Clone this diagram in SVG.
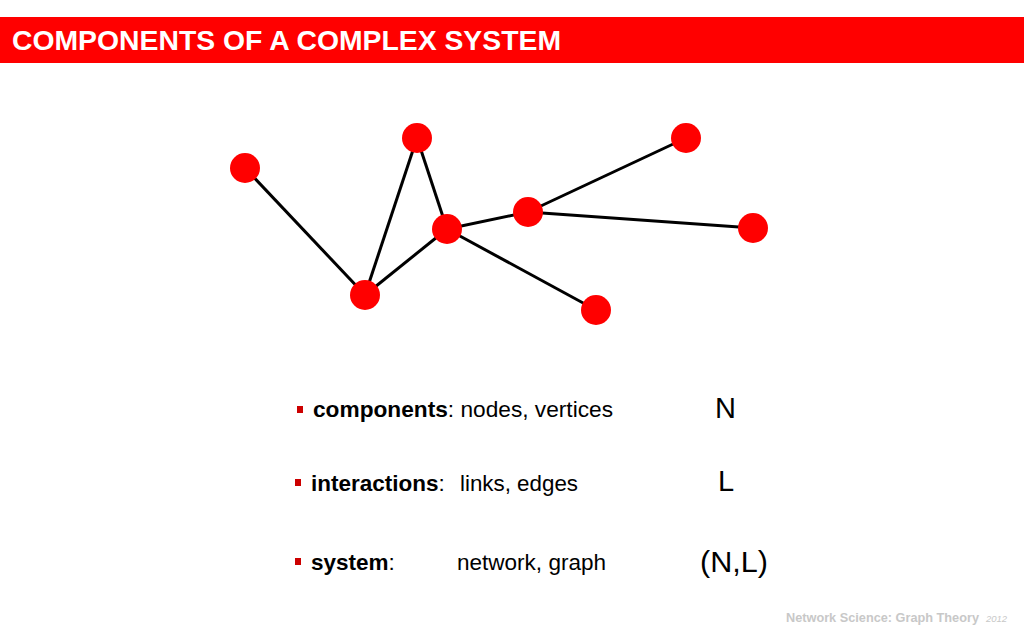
<svg xmlns="http://www.w3.org/2000/svg" width="1024" height="640" viewBox="0 0 1024 640">
<style>
.edge{stroke:#000;stroke-width:3;fill:none}
.node{fill:#ff0000}
.t{font-family:"Liberation Sans",Arial,sans-serif;fill:#000}
.b{font-weight:bold}
.bul{fill:#cc0000}
</style>
<rect width="1024" height="640" fill="#fff"/>
<rect x="0" y="17" width="1024" height="46" fill="#ff0000"/>
<text class="t b" x="12" y="50" font-size="28" style="fill:#fff" textLength="549" lengthAdjust="spacingAndGlyphs">COMPONENTS OF A COMPLEX SYSTEM</text>
<g id="connectors">
<line class="edge" x1="245" y1="168" x2="365" y2="295"/>
<line class="edge" x1="365" y1="295" x2="417" y2="138"/>
<line class="edge" x1="417" y1="138" x2="447" y2="229"/>
<line class="edge" x1="365" y1="295" x2="447" y2="229"/>
<line class="edge" x1="447" y1="229" x2="528" y2="212"/>
<line class="edge" x1="528" y1="212" x2="686" y2="138"/>
<line class="edge" x1="528" y1="212" x2="753" y2="228"/>
<line class="edge" x1="447" y1="229" x2="596" y2="310"/>
</g>
<g id="n1"><circle class="node" cx="245" cy="168" r="15"/></g>
<g id="n2"><circle class="node" cx="417" cy="138" r="15"/></g>
<g id="n3"><circle class="node" cx="447" cy="229" r="15"/></g>
<g id="n4"><circle class="node" cx="528" cy="212" r="15"/></g>
<g id="n5"><circle class="node" cx="686" cy="138" r="15"/></g>
<g id="n6"><circle class="node" cx="753" cy="228" r="15"/></g>
<g id="n7"><circle class="node" cx="365" cy="295" r="15"/></g>
<g id="n8"><circle class="node" cx="596" cy="310" r="15"/></g>
<rect class="bul" x="297" y="406" width="6" height="7"/>
<text class="t" x="313" y="417" font-size="22.5" textLength="300" lengthAdjust="spacingAndGlyphs"><tspan class="b">components</tspan>: nodes, vertices</text>
<text class="t" x="715" y="418" font-size="29">N</text>
<rect class="bul" x="295" y="479" width="6" height="7"/>
<text class="t" x="311" y="491" font-size="22.5"><tspan class="b">interactions</tspan>:</text>
<text class="t" x="460" y="491" font-size="22.5" textLength="118" lengthAdjust="spacingAndGlyphs">links, edges</text>
<text class="t" x="718" y="491" font-size="29">L</text>
<rect class="bul" x="295" y="558" width="6" height="7"/>
<text class="t" x="311" y="570" font-size="22.5"><tspan class="b">system</tspan>:</text>
<text class="t" x="457" y="570" font-size="22.5" textLength="149" lengthAdjust="spacingAndGlyphs">network, graph</text>
<text class="t" x="700" y="572" font-size="29" textLength="68" lengthAdjust="spacingAndGlyphs">(N,L)</text>
<text class="t b" x="786" y="622" font-size="12.5" style="fill:#c8c8c8" textLength="193" lengthAdjust="spacingAndGlyphs">Network Science: Graph Theory</text>
<text class="t" x="986" y="622" font-size="9.5" font-style="italic" style="fill:#c8c8c8">2012</text>
</svg>
